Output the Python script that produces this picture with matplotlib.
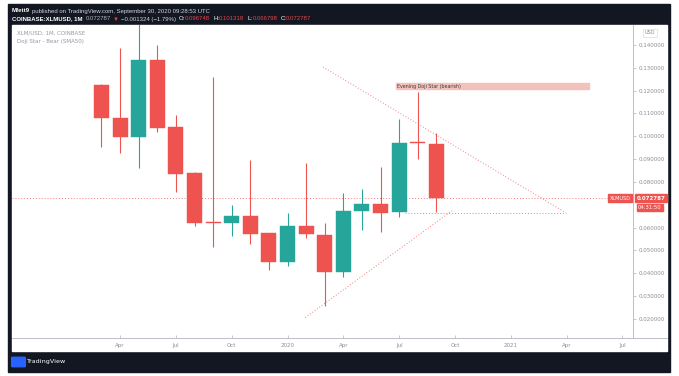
import matplotlib
matplotlib.use("Agg")
import matplotlib.pyplot as plt
from matplotlib.patches import Rectangle, FancyBboxPatch
from matplotlib.lines import Line2D

W, H = 679, 376

# ---------------- data ----------------
months = ["2019-03", "2019-04", "2019-05", "2019-06", "2019-07", "2019-08", "2019-09",
          "2019-10", "2019-11", "2019-12", "2020-01", "2020-02", "2020-03", "2020-04",
          "2020-05", "2020-06", "2020-07", "2020-08", "2020-09"]
opens  = [0.1225, 0.1079, 0.0995, 0.1334, 0.1040, 0.0840, 0.0624, 0.0621, 0.0651, 0.0574,
          0.0448, 0.0606, 0.0567, 0.0406, 0.0673, 0.0703, 0.0666, 0.0972, 0.096748]
highs  = [0.1230, 0.1386, 0.1525, 0.1400, 0.1093, 0.0845, 0.1261, 0.0698, 0.0896, 0.0578,
          0.0662, 0.0882, 0.0618, 0.0750, 0.0771, 0.0864, 0.1074, 0.1195, 0.101318]
lows   = [0.0954, 0.0928, 0.0862, 0.1018, 0.0754, 0.0606, 0.0515, 0.0564, 0.0526, 0.0413,
          0.0431, 0.0552, 0.0255, 0.0384, 0.0589, 0.0581, 0.0647, 0.0899, 0.066798]
closes = [0.1081, 0.0995, 0.1334, 0.1037, 0.0836, 0.0621, 0.0620, 0.0651, 0.0571, 0.0448,
          0.0606, 0.0570, 0.0406, 0.0673, 0.0703, 0.0665, 0.0969, 0.0969, 0.072787]

# time axis labels (month index relative to Mar 2019)
xtick_pos = [1, 4, 7, 10, 13, 16, 19, 22, 25, 28]
xtick_labels = ["Apr", "Jul", "Oct", "2020", "Apr", "Jul", "Oct", "2021", "Apr", "Jul"]
ytick_vals = [0.02, 0.03, 0.04, 0.05, 0.06, 0.08, 0.09, 0.10, 0.11, 0.12, 0.13, 0.14]

# drawings (month index, price)
upper_trend = ([11.9, 24.95], [0.1304, 0.0665])
lower_trend = ([10.95, 18.85], [0.0205, 0.0674])
support_line = ([16.3, 24.95], [0.0665, 0.0665])
last_price = 0.072787
pattern_label = "Evening Doji Star (bearish)"
pattern_box = (15.85, 26.2, 0.1232, 0.1205)

UP, DOWN = "#26a69a", "#ef5350"

def fx(px):
    return px / W

def fy(py):
    return 1 - py / H

fig = plt.figure(figsize=(W / 100, H / 100), dpi=100)
fig.patch.set_facecolor("white")

# frame
fig.patches.append(Rectangle((fx(8), fy(372)), fx(670) - fx(8), fy(4) - fy(372),
                             transform=fig.transFigure, color="#131722", zorder=-10))
fig.patches.append(Rectangle((fx(12), fy(351)), fx(667) - fx(12), fy(25) - fy(351),
                             transform=fig.transFigure, color="white", zorder=-9))

ax = fig.add_axes([fx(12), fy(337.5), fx(633) - fx(12), fy(25) - fy(337.5)])
ax.set_facecolor("none")
ax.set_xlim(-4.81, 28.57)
ax.set_ylim(0.0118, 0.14877)

xs = list(range(len(months)))
for i in xs:
    o, h, l, c = opens[i], highs[i], lows[i], closes[i]
    col = UP if c > o else DOWN
    ax.vlines(i, l, h, color=col, lw=0.8, zorder=3)
    bot = min(o, c)
    ht = max(abs(c - o), 0.0004)
    ax.bar(i, ht, bottom=bot, width=0.8, color=col, edgecolor=col, lw=0.3, zorder=4)

dot = dict(color=DOWN, lw=0.7, ls=(0, (1, 2)), alpha=0.75, zorder=2)
ax.plot(*upper_trend, **dot)
ax.plot(*lower_trend, **dot)
ax.plot(*support_line, **dot)
ax.axhline(last_price, **dot)

# pattern label box
x0, x1, ytop, ybot = pattern_box
ax.add_patch(Rectangle((x0, ybot), x1 - x0, ytop - ybot, color="#f4c2bc", zorder=5, clip_on=False))
ax.text(x0 + 0.05, (ytop + ybot) / 2, pattern_label, fontsize=3.4, color="#3a3a3a",
        va="center", ha="left", zorder=6, family="DejaVu Sans")

# axes styling
for s in ["left", "top"]:
    ax.spines[s].set_visible(False)
ax.spines["right"].set_color("#b2b5be")
ax.spines["right"].set_linewidth(0.6)
ax.spines["bottom"].set_visible(False)
ax.yaxis.tick_right()
ax.set_yticks(ytick_vals)
ax.set_yticklabels([f"{v:.6f}" for v in ytick_vals])
ax.set_xticks(xtick_pos)
ax.set_xticklabels(xtick_labels)
ax.tick_params(axis="y", length=2, width=0.5, color="#b2b5be", labelsize=4,
               labelcolor="#8a8d96", pad=2)
ax.tick_params(axis="x", length=2, width=0.5, color="#b2b5be", labelsize=4,
               labelcolor="#8a8d96", pad=4, direction="in")

fig.lines.append(Line2D([fx(12), fx(667)], [fy(337.5), fy(337.5)], transform=fig.transFigure,
                        color="#b2b5be", lw=0.6))

# price label
ax.annotate("0.072787", xy=(1.0, last_price), xycoords=("axes fraction", "data"),
            xytext=(2.5, 0), textcoords="offset points", fontsize=4, color="white",
            va="center", ha="left", fontweight="bold", annotation_clip=False,
            bbox=dict(boxstyle="square,pad=0.25", fc=DOWN, ec=DOWN), zorder=10)
ax.annotate("XLMUSD", xy=(1.0, last_price), xycoords=("axes fraction", "data"),
            xytext=(-1.5, 0), textcoords="offset points", fontsize=3.6, color="white",
            va="center", ha="right", annotation_clip=False,
            bbox=dict(boxstyle="square,pad=0.3", fc=DOWN, ec=DOWN), zorder=10)
ax.annotate("04:31:50", xy=(1.0, last_price), xycoords=("axes fraction", "data"),
            xytext=(3.5, -6.5), textcoords="offset points", fontsize=3.8, color="white",
            va="center", ha="left", annotation_clip=False,
            bbox=dict(boxstyle="square,pad=0.2", fc=DOWN, ec=DOWN), zorder=10)

fig.text(fx(650), fy(33), "USD", fontsize=3.6, color="#8a8d96", ha="center", va="center",
         bbox=dict(boxstyle="square,pad=0.3", fc="white", ec="#d1d4dc", lw=0.4))

# legend text
fig.text(fx(17), fy(33), "XLM/USD, 1M, COINBASE", fontsize=4, color="#9598a1", va="center")
fig.text(fx(17), fy(42), "Doji Star - Bear (SMA50)", fontsize=4, color="#9598a1", va="center")

# header
renderer = fig.canvas.get_renderer()

def seq_text(px, py, pieces, size):
    cur = px
    for s, color, weight, gap in pieces:
        t = fig.text(fx(cur), fy(py), s, color=color, fontsize=size, fontweight=weight,
                     va="center", ha="left", family="Liberation Sans")
        bb = t.get_window_extent(renderer)
        cur += bb.width + gap

HRED = "#e0474c"
seq_text(12, 11, [("Mfett9", "white", "bold", 2),
                  ("published on TradingView.com, September 30, 2020 09:28:53 UTC", "#d1d4dc", "normal", 0)],
         4.3)
seq_text(12, 19, [("COINBASE:XLMUSD, 1M", "white", "bold", 3),
                  ("0.072787", "#b2b5be", "normal", 2),
                  ("\u25bc", HRED, "normal", 2),
                  ("\u22120.001324 (\u22121.79%)", "#d1d4dc", "normal", 3),
                  ("O:", "white", "normal", 0), ("0.096748", HRED, "normal", 3),
                  ("H:", "white", "normal", 0), ("0.101318", HRED, "normal", 3),
                  ("L:", "white", "normal", 0), ("0.066798", HRED, "normal", 3),
                  ("C:", "white", "normal", 0), ("0.072787", HRED, "normal", 0)],
         4.3)

# footer logo
fig.patches.append(FancyBboxPatch((fx(13), fy(366)), fx(11), fy(0) - fy(8),
                                  boxstyle="round,pad=0.002", transform=fig.transFigure,
                                  color="#2962ff"))
fig.text(fx(26), fy(362), "TradingView", fontsize=4.6, color="white", va="center", ha="left")

fig.savefig("out.png", dpi=100)
